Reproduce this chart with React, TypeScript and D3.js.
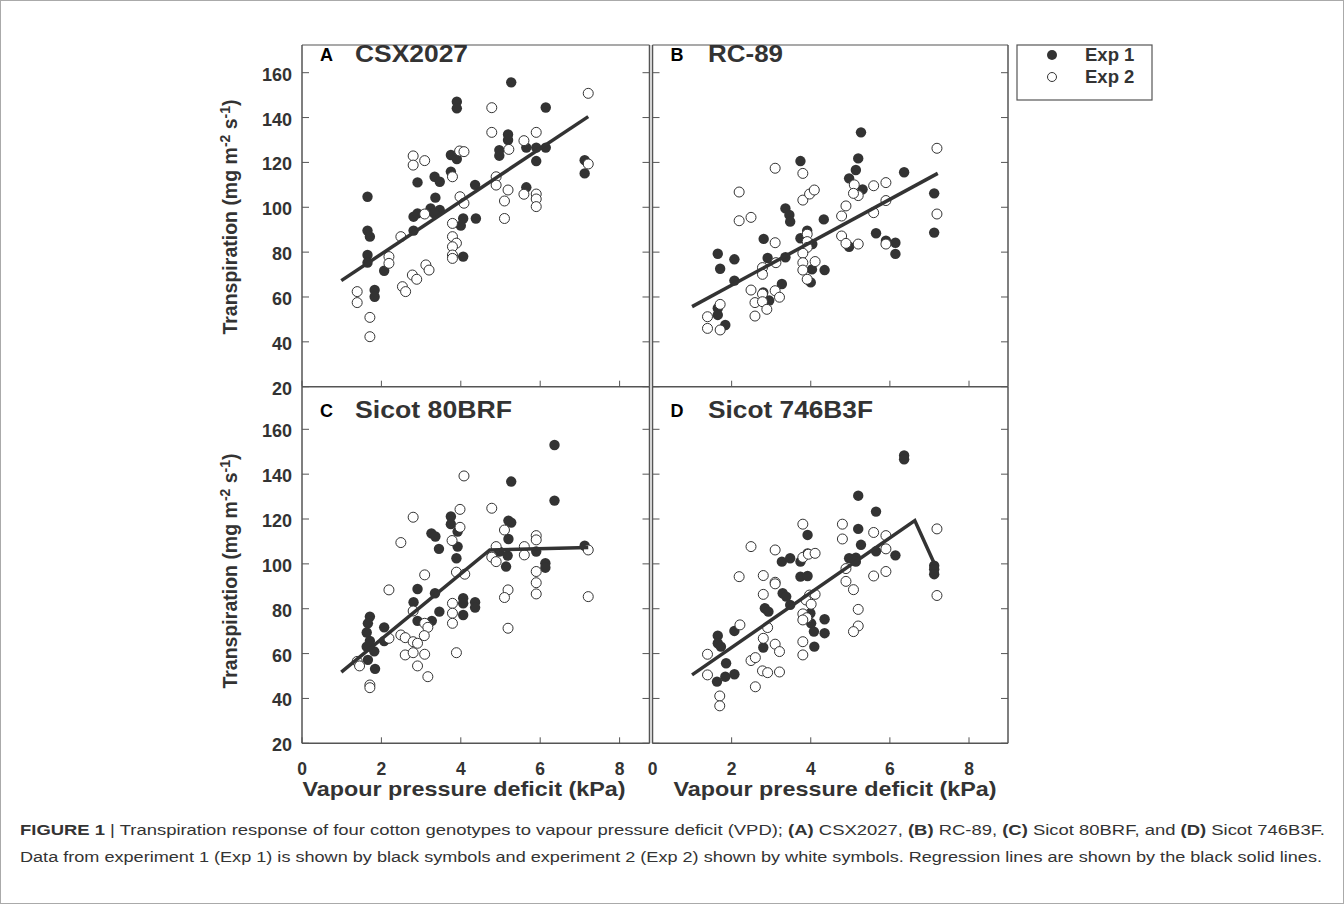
import React from "react";
import * as d3 from "d3";

// ---------- DATA ----------
type P = [number, number];
const xTicks = [0, 2, 4, 6, 8];
const yTicks = [20, 40, 60, 80, 100, 120, 140, 160];

const csxExp1: P[] = [[3.90,147.1],[3.90,144.1],[3.75,123.3],[3.90,121.5],[3.75,115.9],[3.34,113.6],[3.47,111.4],[2.91,111.1],[1.65,104.7],[3.36,104.3],[3.24,99.5],[3.47,98.8],[3.33,97.3],[2.81,95.8],[2.91,97.3],[4.06,95.0],[4.00,91.8],[4.38,95.0],[2.81,89.6],[1.65,89.6],[1.71,86.9],[4.06,78.0],[1.65,78.7],[1.65,75.3],[2.07,71.7],[1.83,63.1],[1.83,60.1],[5.27,155.7],[6.14,144.5],[5.19,132.5],[5.19,130.0],[4.97,125.5],[4.97,123.0],[5.65,126.6],[5.90,126.6],[6.14,126.6],[5.90,120.6],[7.12,121.0],[7.12,115.1],[4.36,110.0],[5.65,108.9]];
const csxExp2: P[] = [[2.80,122.9],[2.80,118.8],[3.09,120.8],[3.97,125.1],[4.08,124.8],[3.79,113.6],[3.09,97.0],[3.98,104.7],[4.08,101.8],[3.79,92.8],[3.79,86.9],[3.89,84.0],[3.79,82.4],[3.79,78.7],[3.79,77.2],[2.49,86.9],[2.19,78.0],[2.19,75.0],[3.12,74.3],[3.20,72.0],[2.78,69.8],[2.89,67.9],[2.53,64.6],[2.61,62.4],[1.39,62.4],[1.39,57.5],[1.71,50.9],[1.71,42.3],[7.21,150.8],[4.78,144.4],[4.78,133.4],[5.90,133.4],[5.59,129.7],[5.21,125.8],[4.89,113.6],[4.89,109.9],[5.19,107.7],[7.21,119.3],[5.10,102.8],[5.59,105.8],[5.90,105.9],[5.90,103.7],[5.90,100.3],[5.10,95.0]];
const csxLine: P[] = [[0.99,67.3],[7.21,140.4]];

const rcExp1: P[] = [[3.74,120.6],[3.36,99.5],[3.46,96.6],[3.48,93.6],[4.33,94.6],[2.81,85.9],[1.65,79.3],[2.07,76.8],[1.71,72.6],[2.91,77.4],[3.36,77.7],[3.74,86.2],[3.91,89.6],[2.07,67.3],[4.03,72.3],[4.00,66.5],[4.35,72.0],[3.27,65.8],[2.95,58.4],[2.80,62.0],[1.65,55.0],[1.65,52.0],[1.84,47.5],[5.27,133.4],[5.20,121.8],[5.14,116.6],[4.97,112.9],[5.31,108.0],[6.36,115.6],[7.12,106.2],[7.12,88.7],[5.65,88.4],[5.90,85.1],[6.14,84.2],[6.14,79.2],[4.97,82.4],[4.04,83.6]];
const rcExp2: P[] = [[3.10,117.4],[3.80,115.1],[3.80,103.2],[3.97,105.9],[4.09,107.7],[2.19,106.8],[2.19,94.0],[2.49,95.5],[3.10,84.2],[3.91,88.0],[3.91,84.7],[3.91,82.1],[3.80,79.5],[3.80,75.3],[3.80,72.0],[3.91,67.9],[4.11,75.8],[2.78,73.1],[2.78,70.1],[3.12,75.3],[2.49,63.1],[2.59,57.5],[2.78,61.3],[2.78,57.9],[2.89,54.5],[3.10,62.8],[3.21,59.9],[2.59,51.5],[1.39,51.2],[1.39,46.0],[1.71,56.7],[1.71,45.3],[7.19,126.3],[5.10,110.0],[5.20,105.2],[5.08,106.2],[5.59,109.6],[5.90,111.0],[5.90,103.0],[4.89,100.6],[4.78,96.1],[5.59,97.6],[7.19,97.0],[4.78,87.2],[4.89,83.9],[5.20,83.6],[5.90,83.6]];
const rcLine: P[] = [[1.0,55.7],[7.21,115.1]];

const s80Exp1: P[] = [[3.75,121.1],[3.75,117.7],[3.92,114.4],[3.26,113.6],[3.36,112.2],[3.92,107.7],[3.45,106.7],[3.89,102.5],[2.91,88.8],[2.81,82.9],[3.35,86.9],[3.46,78.7],[2.91,74.6],[3.27,74.6],[1.71,76.5],[1.66,73.5],[1.63,69.4],[1.63,63.1],[1.66,57.2],[1.84,53.2],[1.82,61.0],[1.71,65.6],[2.07,71.7],[2.07,65.6],[4.06,84.7],[4.06,82.4],[4.36,82.9],[4.36,80.5],[4.06,77.2],[6.36,153.0],[5.27,136.7],[6.36,128.2],[5.20,119.3],[5.27,118.4],[5.20,111.1],[4.97,105.5],[5.18,103.7],[5.14,98.8],[5.90,105.5],[6.13,100.3],[6.13,98.3],[7.12,108.1]];
const s80Exp2: P[] = [[4.08,139.2],[3.98,124.3],[3.98,116.3],[2.80,120.8],[2.49,109.5],[3.78,110.4],[3.09,95.1],[3.89,96.3],[4.10,95.4],[2.19,88.4],[3.79,82.4],[3.79,78.0],[3.79,73.5],[2.80,79.0],[3.09,73.5],[3.17,71.7],[3.08,68.0],[2.19,66.8],[2.49,68.3],[2.60,67.1],[2.80,65.3],[2.91,64.6],[2.60,59.4],[2.80,60.4],[3.09,59.7],[2.91,54.5],[3.17,49.7],[3.89,60.4],[1.39,56.5],[1.45,54.5],[1.71,46.0],[1.71,44.8],[4.78,124.8],[5.10,115.1],[4.89,107.7],[4.78,103.0],[4.89,101.0],[5.60,107.7],[5.60,104.0],[5.90,112.6],[5.90,110.7],[5.90,96.6],[5.90,91.6],[5.90,86.6],[7.21,106.2],[7.21,85.4],[5.19,88.4],[5.10,85.0],[5.19,71.3]];
const s80Line: P[] = [[0.99,51.7],[4.73,106.2],[7.21,107.3]];

const s746Exp1: P[] = [[3.92,112.9],[3.92,104.7],[3.27,101.0],[3.48,102.5],[3.74,101.0],[3.74,94.3],[3.92,94.6],[3.29,86.9],[3.38,85.4],[3.48,81.7],[2.84,80.2],[2.93,78.7],[3.99,78.0],[4.01,73.5],[4.08,69.8],[4.09,63.1],[2.07,70.1],[1.65,68.0],[1.65,64.6],[1.73,63.1],[2.80,62.7],[1.86,55.7],[1.84,49.7],[2.07,50.8],[1.63,47.5],[6.36,148.3],[6.36,146.6],[5.20,130.4],[5.65,123.3],[5.20,115.6],[5.27,108.5],[4.97,102.5],[5.14,102.8],[5.14,101.0],[5.65,105.6],[6.14,103.8],[7.12,99.2],[7.12,97.6],[7.12,95.4],[4.35,75.3],[4.35,69.1]];
const s746Exp2: P[] = [[3.80,117.7],[2.49,107.7],[3.10,106.2],[3.80,102.9],[3.94,104.3],[4.11,104.7],[2.19,94.3],[2.80,94.8],[3.10,91.8],[3.10,91.1],[2.80,86.4],[3.97,86.1],[4.11,86.4],[3.88,83.9],[4.01,82.0],[3.80,77.7],[3.90,76.0],[3.80,75.0],[2.21,72.8],[2.91,71.6],[2.80,66.8],[3.80,65.3],[3.80,59.4],[3.10,64.2],[3.21,60.9],[2.49,56.9],[2.60,58.2],[2.78,52.3],[2.91,51.5],[3.21,51.8],[1.39,59.7],[1.39,50.5],[2.60,45.2],[1.70,41.1],[1.70,36.7],[4.80,117.7],[4.80,111.1],[5.59,114.0],[5.90,112.6],[5.90,106.7],[7.19,115.6],[5.59,94.6],[5.90,96.6],[4.89,97.9],[4.89,92.2],[5.08,88.5],[5.20,79.7],[5.20,72.3],[5.08,69.8],[7.19,85.9]];
const s746Line: P[] = [[1.0,50.5],[6.63,119.3],[7.14,99.5]];

const panelLetters = ["A", "B", "C", "D"];
const panelNames = ["CSX2027", "RC-89", "Sicot 80BRF", "Sicot 746B3F"];
const legendLabels = ["Exp 1", "Exp 2"];

// ---------- LAYOUT ----------
const FRAME = "#555";
const INK = "#333";
const FONT = "Liberation Sans, Arial, Helvetica, sans-serif";

const cols = [
  { x0: 302, x8: 619.6, right: 649.5 },
  { x0: 652.5, x8: 969, right: 1008 },
];
const rows = [
  { top: 45, y20: 386.7, y160: 72.7 },
  { top: 386.7, y20: 743.3, y160: 429.3 },
];
const nameWidths = [113, 75, 157, 165];

const panels = [
  { exp1: csxExp1, exp2: csxExp2, line: csxLine, col: 0, row: 0 },
  { exp1: rcExp1, exp2: rcExp2, line: rcLine, col: 1, row: 0 },
  { exp1: s80Exp1, exp2: s80Exp2, line: s80Line, col: 0, row: 1 },
  { exp1: s746Exp1, exp2: s746Exp2, line: s746Line, col: 1, row: 1 },
];

function Panel({ idx }: { idx: number }) {
  const p = panels[idx];
  const c = cols[p.col];
  const r = rows[p.row];
  const x = d3.scaleLinear().domain([0, 8]).range([c.x0, c.x8]);
  const y = d3.scaleLinear().domain([20, 160]).range([r.y20, r.y160]);
  const line = d3.line<P>().x((d) => x(d[0])).y((d) => y(d[1]));
  const left = c.x0;
  const right = c.right;
  const bottom = r.y20;
  const titleBase = r.top + (p.row === 0 ? 16.5 : 31.5);
  return (
    <g>
      <line x1={left} x2={left} y1={r.top} y2={bottom} stroke={FRAME} strokeWidth={1.5} />
      <line x1={right} x2={right} y1={r.top} y2={bottom} stroke={FRAME} strokeWidth={1.5} />
      <line x1={left} x2={right} y1={bottom} y2={bottom} stroke={FRAME} strokeWidth={1.5} />
      {p.row === 0 && (
        <line x1={left} x2={right} y1={r.top} y2={r.top} stroke={FRAME} strokeWidth={1.2} />
      )}
      {yTicks.map((t) => (
        <g key={"yt" + t}>
          <line x1={left} x2={left + 7} y1={y(t)} y2={y(t)} stroke={FRAME} strokeWidth={1} />
          <line x1={right - 7} x2={right} y1={y(t)} y2={y(t)} stroke={FRAME} strokeWidth={1} />
        </g>
      ))}
      {xTicks.map((t) => (
        <line key={"xt" + t} x1={x(t)} x2={x(t)} y1={bottom} y2={bottom - 6} stroke={FRAME} strokeWidth={1} />
      ))}
      {p.col === 0 &&
        yTicks.map((t) => (
          <text key={"yl" + t} x={292} y={y(t) + 1.5} dy="0.36em" textAnchor="end" fontFamily={FONT}
            fontWeight="bold" fontSize={18} fill={INK}>{t}</text>
        ))}
      {p.row === 1 &&
        xTicks.map((t) => (
          <text key={"xl" + t} x={x(t)} y={775} textAnchor="middle" fontFamily={FONT}
            fontWeight="bold" fontSize={17.5} fill={INK}>{t}</text>
        ))}
      {p.exp1.map((d, i) => (
        <circle key={"f" + i} cx={x(d[0])} cy={y(d[1])} r={5.2} fill={INK} />
      ))}
      {p.exp2.map((d, i) => (
        <circle key={"o" + i} cx={x(d[0])} cy={y(d[1])} r={5} fill="#fff" stroke={INK} strokeWidth={1} />
      ))}
      <path d={line(p.line) || ""} fill="none" stroke={INK} strokeWidth={3.5} strokeLinejoin="miter" />
      <text x={left + 18} y={titleBase - 1} fontFamily={FONT} fontWeight="bold"
        fontSize={18} fill="#000">{panelLetters[idx]}</text>
      <text x={left + (p.col === 0 ? 53 : 55.5)} y={titleBase} fontFamily={FONT}
        fontWeight="bold" fontSize={24} fill={INK} textLength={nameWidths[idx]}
        lengthAdjust="spacingAndGlyphs">{panelNames[idx]}</text>
    </g>
  );
}

function YTitle({ cy }: { cy: number }) {
  return (
    <text transform={`translate(237,${cy}) rotate(-90)`} textAnchor="middle" fontFamily={FONT}
      fontWeight="bold" fontSize={19.5} fill={INK}>
      Transpiration (mg m<tspan dy={-7.5} fontSize={14}>-2</tspan>
      <tspan dy={7.5}> s</tspan><tspan dy={-7.5} fontSize={14}>-1</tspan><tspan dy={7.5}>)</tspan>
    </text>
  );
}

export default function App() {
  return (
    <svg width={1344} height={916} style={{ display: "block", background: "#fff" }}>
      <style>{`body{margin:0}`}</style>
      <rect x={0.5} y={0.5} width={1343} height={903} fill="#fff" stroke="#aaa" strokeWidth={1} />
      {panels.map((_, i) => (
        <Panel key={i} idx={i} />
      ))}
      <YTitle cy={217} />
      <YTitle cy={571} />
      {[464, 835].map((cx) => (
        <text key={cx} x={cx} y={796} textAnchor="middle" fontFamily={FONT} fontWeight="bold"
          fontSize={21} fill={INK} textLength={323} lengthAdjust="spacingAndGlyphs">
          Vapour pressure deficit (kPa)
        </text>
      ))}
      <rect x={1017} y={45} width={135} height={55} fill="#fff" stroke={FRAME} strokeWidth={1.2} />
      <circle cx={1052} cy={55} r={5} fill={INK} />
      <circle cx={1052} cy={77} r={4.5} fill="#fff" stroke={INK} strokeWidth={1} />
      {legendLabels.map((l, i) => (
        <text key={l} x={1085} y={61 + i * 22} fontFamily={FONT} fontWeight="bold" fontSize={18.5}
          fill={INK}>{l}</text>
      ))}
      <text x={20} y={835} fontFamily={FONT} fontSize={15.5} fill={INK} textLength={1305}
        lengthAdjust="spacingAndGlyphs">
        <tspan fontWeight="bold">FIGURE 1</tspan>
        <tspan> | Transpiration response of four cotton genotypes to vapour pressure deficit (VPD); </tspan>
        <tspan fontWeight="bold">(A)</tspan><tspan> CSX2027, </tspan>
        <tspan fontWeight="bold">(B)</tspan><tspan> RC-89, </tspan>
        <tspan fontWeight="bold">(C)</tspan><tspan> Sicot 80BRF, and </tspan>
        <tspan fontWeight="bold">(D)</tspan><tspan> Sicot 746B3F.</tspan>
      </text>
      <text x={20} y={862} fontFamily={FONT} fontSize={15.5} fill={INK} textLength={1302}
        lengthAdjust="spacingAndGlyphs">
        Data from experiment 1 (Exp 1) is shown by black symbols and experiment 2 (Exp 2) shown by white symbols. Regression lines are shown by the black solid lines.
      </text>
    </svg>
  );
}
